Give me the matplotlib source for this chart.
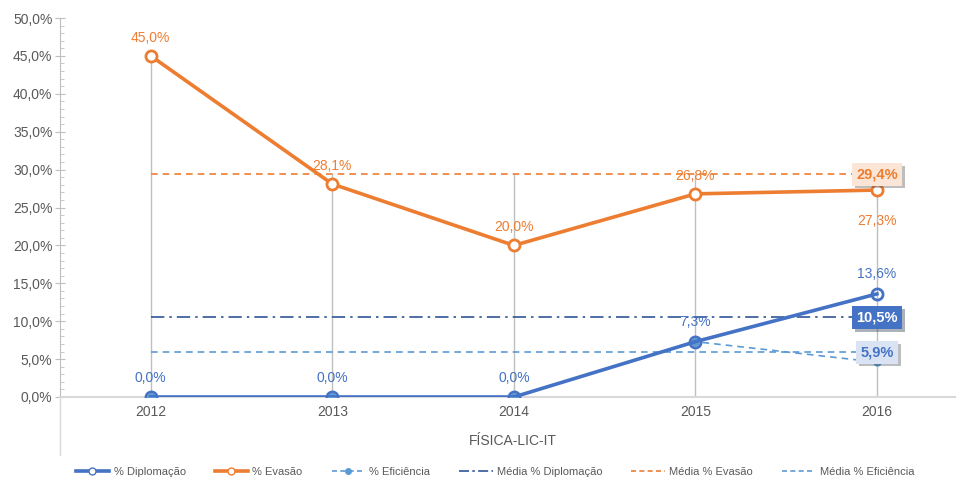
import numpy as np
import matplotlib.pyplot as plt
from matplotlib.ticker import MultipleLocator, FuncFormatter
import matplotlib.patheffects as pe

plt.rcParams['font.family'] = ['Liberation Sans Narrow', 'Liberation Sans', 'DejaVu Sans']

anos = ['2012', '2013', '2014', '2015', '2016']
diplomacao = [0.0, 0.0, 0.0, 7.3, 13.6]
evasao = [45.0, 28.1, 20.0, 26.8, 27.3]
eficiencia = [0.0, 0.0, 0.0, 7.3, 4.6]
media_diplomacao = 10.5
media_evasao = 29.4
media_eficiencia = 5.9

c_dip = '#4472C4'
c_eva = '#ED7D31'
c_efi = '#5B9BD5'
c_mdip = '#2F5597'
grey = '#595959'

x = np.arange(len(anos))

fig = plt.figure(figsize=(9.56, 4.8), dpi=100)
ax = fig.add_axes([60 / 956, 1 - 397 / 480, 895 / 956, 379 / 480])

# linhas de queda até o eixo
tops = np.maximum.reduce([np.array(diplomacao), np.array(evasao), np.array(eficiencia),
                          np.full(len(anos), media_evasao)])
ax.vlines(x, 0, tops, color='#BFBFBF', lw=1, zorder=1)

ax.plot(x, [media_diplomacao] * len(x), color=c_mdip, lw=1.2, dashes=(8, 3, 1.5, 3), zorder=2)
ax.plot(x, [media_evasao] * len(x), color=c_eva, lw=1.2, dashes=(4, 3), zorder=2)
ax.plot(x, [media_eficiencia] * len(x), color=c_efi, lw=1.2, dashes=(4, 3), zorder=2)

ax.plot(x, eficiencia, color=c_efi, lw=1.2, dashes=(4, 3), marker='o', ms=5,
        mfc=c_efi, mec=c_efi, zorder=3)
ax.plot(x, diplomacao, color=c_dip, lw=2.6, marker='o', ms=8, mfc='none',
        mec=c_dip, mew=2, zorder=4)
ax.plot(x, evasao, color=c_eva, lw=2.6, marker='o', ms=8, mfc='white',
        mec=c_eva, mew=2, zorder=4)


def fmt(v):
    return f'{v:.1f}%'.replace('.', ',')


for i, v in enumerate(evasao):
    off = -22 if i == len(evasao) - 1 else 13
    ax.annotate(fmt(v), (x[i], v), xytext=(0, off), textcoords='offset points',
                ha='center', va='center', color=c_eva, fontsize=10, zorder=5)
for i, v in enumerate(diplomacao):
    ax.annotate(fmt(v), (x[i], v), xytext=(0, 14), textcoords='offset points',
                ha='center', va='center', color=c_dip, fontsize=10, zorder=5)

shadow = [pe.withSimplePatchShadow(offset=(2, -2), alpha=0.35)]
box_specs = [(media_evasao, c_eva, '#FBE5D6'),
             (media_diplomacao, 'white', c_dip),
             (media_eficiencia, c_dip, '#DAE3F3')]
for v, fc, bg in box_specs:
    t = ax.text(x[-1], v, fmt(v), ha='center', va='center', color=fc,
                fontsize=10.5, fontweight='bold', zorder=6,
                bbox=dict(boxstyle='square,pad=0.3', fc=bg, ec='none'))
    t.get_bbox_patch().set_path_effects(shadow)

ax.set_xlim(-0.5, 4.43)
ax.set_ylim(0, 50)
ax.set_xticks(x)
ax.set_xticklabels(anos)
ax.yaxis.set_major_locator(MultipleLocator(5))
ax.yaxis.set_minor_locator(MultipleLocator(1))
ax.yaxis.set_major_formatter(FuncFormatter(lambda v, p: fmt(v)))
ax.tick_params(axis='y', which='major', direction='inout', length=7, color='#BFBFBF',
               labelcolor=grey, labelsize=10, pad=2)
ax.tick_params(axis='y', which='minor', direction='in', length=3, color='#BFBFBF')
ax.tick_params(axis='x', length=0, labelcolor=grey, labelsize=10, pad=6)

for s in ['top', 'right']:
    ax.spines[s].set_visible(False)
ax.spines['left'].set_color('#BFBFBF')
ax.spines['bottom'].set_color('#D9D9D9')
ax.spines['bottom'].set_linewidth(1.5)
ax.plot([0, 0], [0, -(455 - 397) / 379], transform=ax.transAxes, color='#D9D9D9',
        lw=1, clip_on=False)

fig.text(513 / 956, 1 - 441 / 480, 'FÍSICA-LIC-IT', ha='center', va='center',
         color=grey, fontsize=10)

handles = [
    plt.Line2D([], [], color=c_dip, lw=2.6, marker='o', ms=5, mfc='white', mec=c_dip),
    plt.Line2D([], [], color=c_eva, lw=2.6, marker='o', ms=5, mfc='white', mec=c_eva),
    plt.Line2D([], [], color=c_efi, lw=1.2, dashes=(3, 2), marker='o', ms=4, mfc=c_efi, mec=c_efi),
    plt.Line2D([], [], color=c_mdip, lw=1.2, dashes=(6, 2, 1.5, 2)),
    plt.Line2D([], [], color=c_eva, lw=1.2, dashes=(3, 2)),
    plt.Line2D([], [], color=c_efi, lw=1.2, dashes=(3, 2)),
]
labels = ['% Diplomação', '% Evasão', '% Eficiência', 'Média % Diplomação',
          'Média % Evasão', 'Média % Eficiência']
leg = fig.legend(handles, labels, loc='center', bbox_to_anchor=(495 / 956, 1 - 472 / 480),
                 ncol=6, frameon=False, fontsize=8, handlelength=3.0, columnspacing=2.6,
                 handletextpad=0.4)
for t in leg.get_texts():
    t.set_color(grey)

fig.savefig('out.png', dpi=100)
